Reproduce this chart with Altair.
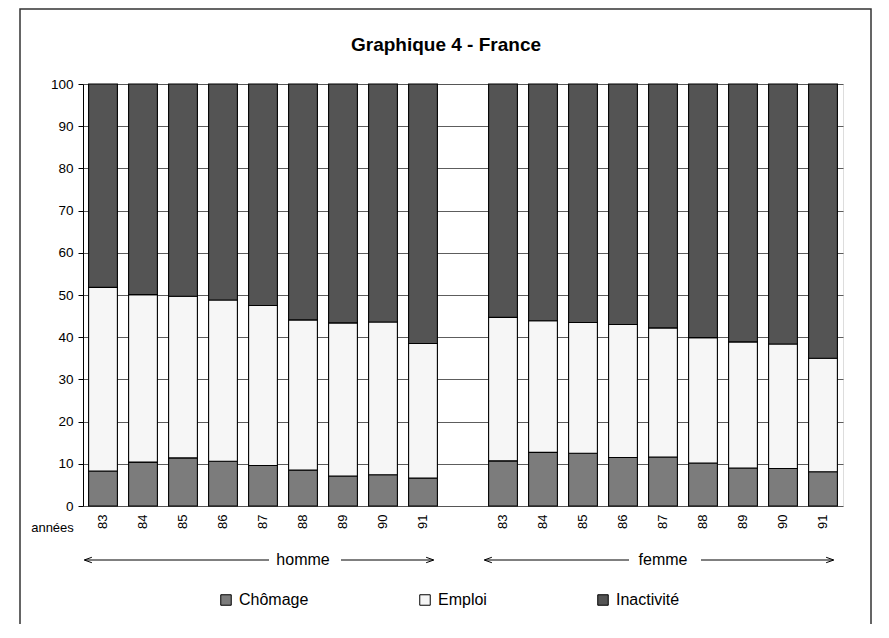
import altair as alt
import pandas as pd

# ---- data (percent of population) ----
years = ["83", "84", "85", "86", "87", "88", "89", "90", "91"]
categories = ["Chômage", "Emploi", "Inactivité"]

chomage_homme = [8.3, 10.4, 11.4, 10.6, 9.6, 8.5, 7.1, 7.4, 6.6]
emploi_homme = [43.5, 39.7, 38.3, 38.2, 37.9, 35.6, 36.3, 36.2, 31.9]
inactivite_homme = [48.2, 49.9, 50.3, 51.2, 52.5, 55.9, 56.6, 56.4, 61.5]

chomage_femme = [10.7, 12.7, 12.5, 11.5, 11.6, 10.2, 9.0, 8.9, 8.1]
emploi_femme = [34.0, 31.2, 31.0, 31.5, 30.6, 29.7, 29.9, 29.5, 26.9]
inactivite_femme = [55.3, 56.1, 56.5, 57.0, 57.8, 60.1, 61.1, 61.6, 65.0]

groups = ["homme", "femme"]
group_prefix = ["H", "F"]

# ---- tables for the library ----
rows = []
for sexe, prefix, series in [
    ("homme", "H", [chomage_homme, emploi_homme, inactivite_homme]),
    ("femme", "F", [chomage_femme, emploi_femme, inactivite_femme]),
]:
    for i, y in enumerate(years):
        for k, cat in enumerate(categories):
            rows.append({"slot": prefix + y, "annee": y, "sexe": sexe,
                         "categorie": cat, "ordre": k, "valeur": series[k][i]})
df = pd.DataFrame(rows)

slots = ["H" + y for y in years] + ["gap"] + ["F" + y for y in years]

ann = pd.DataFrame({
    "groupe": groups,
    "debut": [p + years[0] for p in group_prefix],
    "milieu": ["H88", "F87"],
    "fin": [p + years[-1] for p in group_prefix],
})

FONT = "Liberation Sans"
fills = ["#7c7c7c", "#f6f6f6", "#545454"]

xscale = alt.Scale(domain=slots, paddingInner=0.28, paddingOuter=0.14)

bars = alt.Chart(df).mark_bar(stroke="black", strokeWidth=1.1).encode(
    x=alt.X("slot:N", scale=xscale, sort=slots,
            axis=alt.Axis(labelAngle=270,
                          labelExpr="datum.value == 'gap' ? '' : substring(datum.value, 1)",
                          ticks=False, domain=False, grid=False,
                          labelFontSize=13, labelFont=FONT, labelColor="black",
                          labelPadding=8,
                          title="années", titleAngle=0, titleX=-31, titleY=21,
                          titleFontWeight="normal", titleFontSize=13, titleFont=FONT,
                          titleColor="black", titleBaseline="middle", titleAlign="center")),
    y=alt.Y("valeur:Q", stack="zero",
            scale=alt.Scale(domain=[0, 100], nice=False),
            axis=alt.Axis(values=list(range(0, 101, 10)), grid=True,
                          gridColor="#333333", gridWidth=0.8,
                          domainColor="black", tickColor="black", tickSize=5,
                          labelFontSize=13.5, labelFont=FONT, labelColor="black",
                          labelPadding=5, title=None)),
    color=alt.Color("categorie:N",
                    scale=alt.Scale(domain=categories, range=fills),
                    legend=alt.Legend(title=None, orient="none", direction="horizontal",
                                      legendX=135, legendY=508,
                                      symbolType="square", symbolSize=110,
                                      symbolStrokeColor="black", symbolStrokeWidth=1,
                                      symbolOpacity=1,
                                      labelFontSize=16, labelFont=FONT, labelColor="black",
                                      columnPadding=108, labelOffset=5, padding=0)),
    order=alt.Order("ordre:Q"),
)

ann_y = 476

left_rule = alt.Chart(ann).mark_rule(color="black", strokeWidth=1, xOffset=-18, x2Offset=-34).encode(
    x=alt.X("debut:N", scale=xscale), x2="milieu:N", y=alt.value(ann_y))
right_rule = alt.Chart(ann).mark_rule(color="black", strokeWidth=1, xOffset=38, x2Offset=10).encode(
    x=alt.X("milieu:N", scale=xscale), x2="fin:N", y=alt.value(ann_y))
left_head = alt.Chart(ann).mark_point(shape="M1,-0.7L-1,0L1,0.7", filled=False, stroke="black",
                                      strokeWidth=1, size=60, opacity=1, xOffset=-15).encode(
    x=alt.X("debut:N", scale=xscale), y=alt.value(ann_y))
right_head = alt.Chart(ann).mark_point(shape="M-1,-0.7L1,0L-1,0.7", filled=False, stroke="black",
                                       strokeWidth=1, size=60, opacity=1, xOffset=7).encode(
    x=alt.X("fin:N", scale=xscale), y=alt.value(ann_y))
labels = alt.Chart(ann).mark_text(fontSize=16, font=FONT, color="black", baseline="middle").encode(
    x=alt.X("milieu:N", scale=xscale), y=alt.value(ann_y), text="groupe:N")

frame = alt.Chart(pd.DataFrame({"k": [0]})).mark_rect(filled=False, stroke="#333333", strokeWidth=1.5).encode(
    x=alt.value(-63), x2=alt.value(788), y=alt.value(-75), y2=alt.value(620))

chart = alt.layer(frame, bars, left_rule, right_rule, left_head, right_head, labels).properties(
    width=760, height=422,
    padding={"left": 75, "top": 76, "right": 34, "bottom": 118},
    autosize=alt.AutoSizeParams(type="none"),
    title=alt.Title("Graphique 4 - France", fontSize=19, font=FONT, fontWeight="bold",
                    color="black", anchor="middle", dx=-17, offset=-47),
).configure_view(strokeWidth=0).configure(background="white")

chart.save("out.html", embed_options={"renderer": "svg", "actions": False})
